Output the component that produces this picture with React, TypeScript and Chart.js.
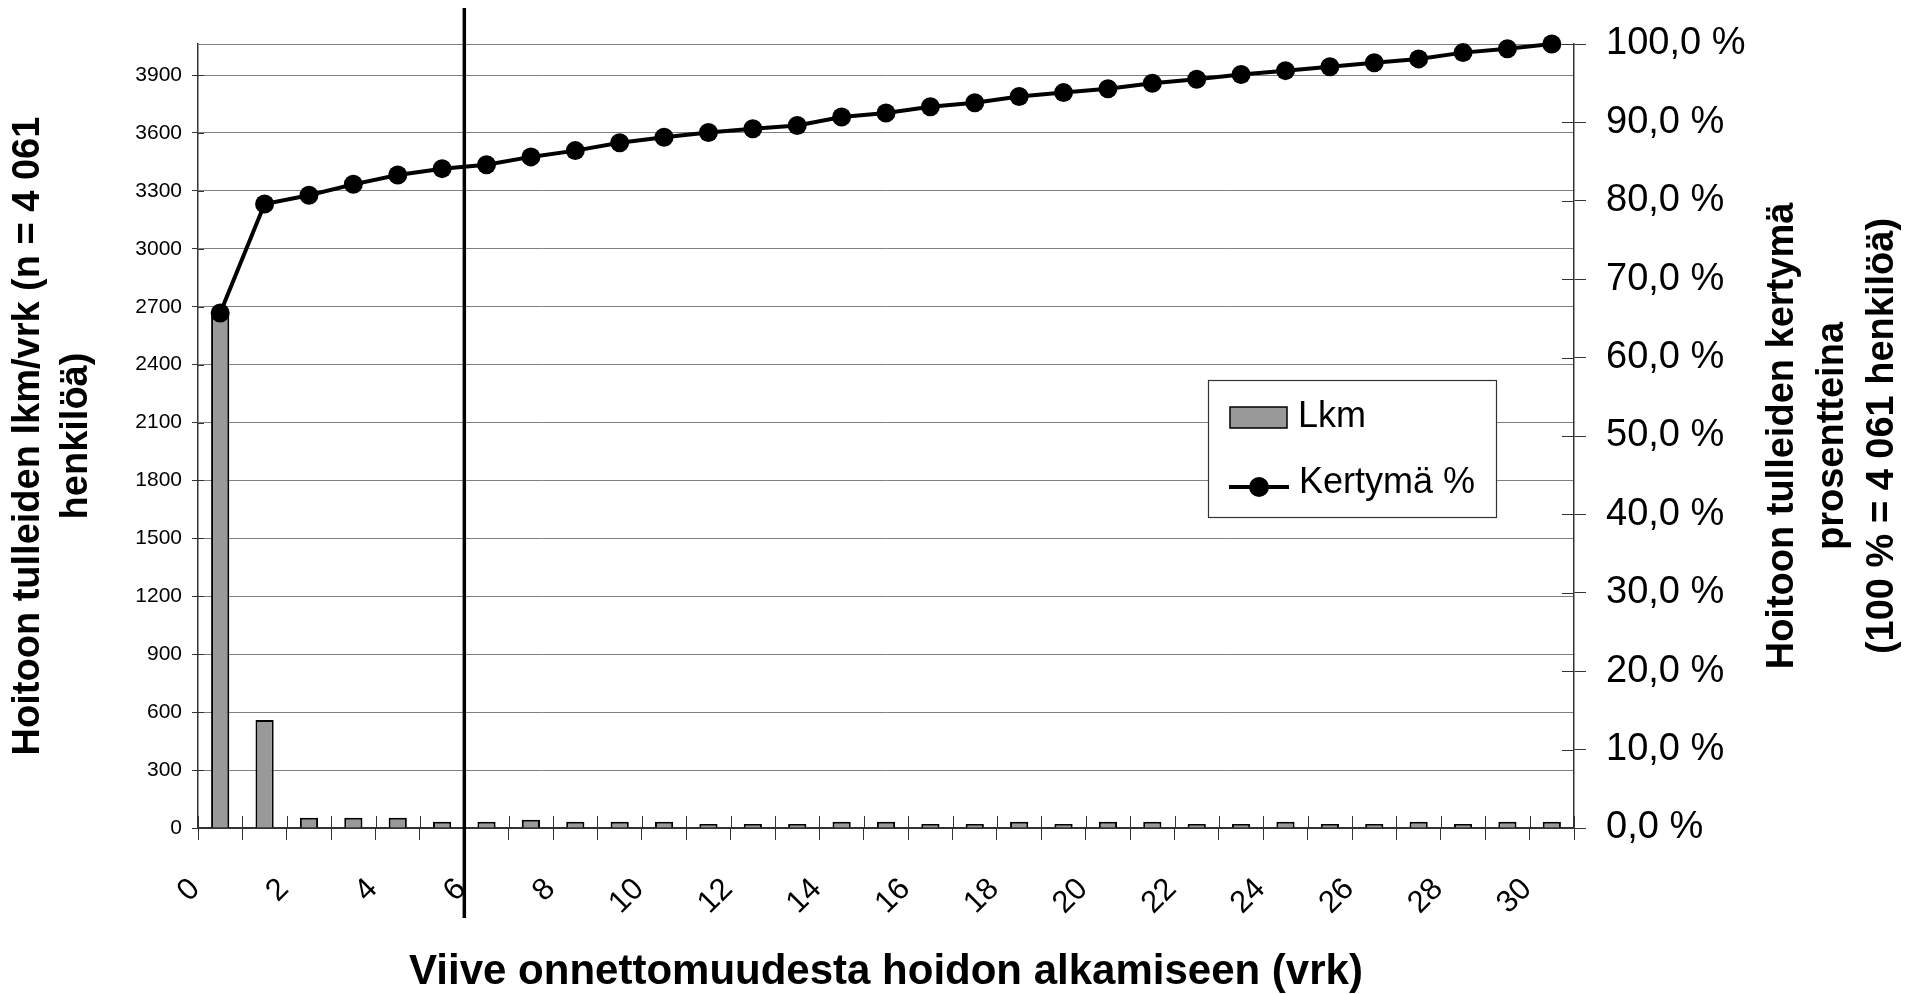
import React, { useEffect, useRef } from 'react';
import { Chart, registerables } from 'chart.js';

Chart.register(...registerables);

// ---- Data ----
const days: string[] = [
  '0', '1', '2', '3', '4', '5', '6', '7', '8', '9', '10', '11', '12', '13', '14', '15',
  '16', '17', '18', '19', '20', '21', '22', '23', '24', '25', '26', '27', '28', '29', '30',
];
const lkm: number[] = [
  2668, 559, 53, 53, 53, 33, 33, 43, 33, 33, 33, 21, 21, 21, 33, 33,
  21, 21, 33, 21, 33, 33, 21, 21, 33, 21, 21, 33, 21, 33, 33,
];
const kertyma: number[] = [
  65.7, 79.6, 80.7, 82.1, 83.3, 84.1, 84.6, 85.6, 86.4, 87.4, 88.1, 88.7, 89.2, 89.6, 90.7, 91.2,
  92.0, 92.5, 93.3, 93.8, 94.3, 95.0, 95.5, 96.1, 96.6, 97.1, 97.6, 98.1, 98.9, 99.4, 100.0,
];
const totalN = 4061;
const countStep = 300;
const pctMax = 100;
const pctStep = 10;
const dividerAfterIndex = 5;
const seriesLabels = ['Lkm', 'Kertymä %'];
const xTitle = 'Viive onnettomuudesta hoidon alkamiseen (vrk)';
const yTitle = ['Hoitoon tulleiden lkm/vrk (n = 4 061', 'henkilöä)'];
const y2Title = ['Hoitoon tulleiden kertymä', 'prosentteina', '(100 % = 4 061 henkilöä)'];

const FONT = "'Liberation Sans', Arial, sans-serif";
const BAR_FILL = '#999999';
const AXIS = '#333333';
const GRID = '#808080';

const decorPlugin = {
  id: 'decor',
  beforeDatasetsDraw(chart: any) {
    const { ctx, chartArea: a } = chart;
    ctx.save();
    ctx.strokeStyle = GRID;
    ctx.lineWidth = 1;
    ctx.beginPath();
    ctx.moveTo(a.left, Math.round(a.top) + 0.5);
    ctx.lineTo(a.right, Math.round(a.top) + 0.5);
    ctx.stroke();
    ctx.restore();
  },
  afterDraw(chart: any) {
    const { ctx, chartArea: a, scales } = chart;
    const x = scales.x;
    const y = scales.y;
    const y2 = scales.y2;
    ctx.save();
    // inward halves of tick marks
    ctx.strokeStyle = AXIS;
    ctx.lineWidth = 1;
    const cw = x.getPixelForValue(1) - x.getPixelForValue(0);
    for (let i = 0; i <= days.length; i++) {
      const px = Math.round(x.getPixelForValue(0) - cw / 2 + i * cw) + 0.5;
      ctx.beginPath();
      ctx.moveTo(px, a.bottom - 12);
      ctx.lineTo(px, a.bottom);
      ctx.stroke();
    }
    y.ticks.forEach((t: any) => {
      const py = Math.round(y.getPixelForValue(t.value)) + 0.5;
      ctx.beginPath();
      ctx.moveTo(a.left, py);
      ctx.lineTo(a.left + 6, py);
      ctx.stroke();
    });
    y2.ticks.forEach((t: any) => {
      const py = Math.round(y2.getPixelForValue(t.value)) + 0.5;
      ctx.beginPath();
      ctx.moveTo(a.right - 12, py);
      ctx.lineTo(a.right, py);
      ctx.stroke();
    });

    // vertical divider line
    const dx = (x.getPixelForValue(dividerAfterIndex) + x.getPixelForValue(dividerAfterIndex + 1)) / 2;
    ctx.strokeStyle = '#000';
    ctx.lineWidth = 3.5;
    ctx.beginPath();
    ctx.moveTo(dx, 8);
    ctx.lineTo(dx, 918);
    ctx.stroke();

    // right axis title (reads bottom-to-top)
    ctx.fillStyle = '#000';
    ctx.font = `bold 38px ${FONT}`;
    ctx.textAlign = 'center';
    ctx.textBaseline = 'alphabetic';
    const cy = (a.top + a.bottom) / 2;
    y2Title.forEach((line, i) => {
      ctx.save();
      ctx.translate(1793 + i * 50, cy);
      ctx.rotate(-Math.PI / 2);
      ctx.fillText(line, 0, 0);
      ctx.restore();
    });

    // legend
    const lx = 1208.5, ly = 380.5, lw = 288, lh = 137;
    ctx.fillStyle = '#fff';
    ctx.fillRect(lx, ly, lw, lh);
    ctx.strokeStyle = AXIS;
    ctx.lineWidth = 1.2;
    ctx.strokeRect(lx, ly, lw, lh);
    const barDs = chart.data.datasets[1];
    const lineDs = chart.data.datasets[0];
    ctx.fillStyle = barDs.backgroundColor;
    ctx.fillRect(1230, 407, 57, 21);
    ctx.strokeStyle = '#000';
    ctx.lineWidth = 1.5;
    ctx.strokeRect(1230, 407, 57, 21);
    ctx.strokeStyle = lineDs.borderColor;
    ctx.lineWidth = 4;
    ctx.beginPath();
    ctx.moveTo(1229, 487);
    ctx.lineTo(1289, 487);
    ctx.stroke();
    ctx.fillStyle = lineDs.pointBackgroundColor;
    ctx.beginPath();
    ctx.arc(1259, 487, 10, 0, Math.PI * 2);
    ctx.fill();
    ctx.fillStyle = '#000';
    ctx.font = `36px ${FONT}`;
    ctx.textAlign = 'left';
    ctx.textBaseline = 'alphabetic';
    ctx.fillText(barDs.label, 1298, 427);
    ctx.fillText(lineDs.label, 1299, 493);
    ctx.restore();
  },
};

export default function App() {
  const ref = useRef<HTMLCanvasElement>(null);

  useEffect(() => {
    document.body.style.margin = '0';
    const canvas = ref.current!;
    const chart = new Chart(canvas, {
      type: 'bar',
      data: {
        labels: days,
        datasets: [
          {
            type: 'line',
            label: seriesLabels[1],
            data: kertyma,
            yAxisID: 'y2',
            borderColor: '#000',
            borderWidth: 4,
            pointRadius: 9.5,
            pointBorderWidth: 0,
            pointBackgroundColor: '#000',
            pointBorderColor: '#000',
            tension: 0,
            clip: false,
            order: 1,
          } as any,
          {
            type: 'bar',
            label: seriesLabels[0],
            data: lkm,
            yAxisID: 'y',
            backgroundColor: BAR_FILL,
            borderColor: '#000',
            borderWidth: 2,
            categoryPercentage: 1,
            barPercentage: 0.41,
            order: 2,
          } as any,
        ],
      },
      options: {
        animation: false,
        responsive: false,
        devicePixelRatio: 1,
        layout: { padding: { top: 44, left: 0, right: 0, bottom: 0 } },
        plugins: {
          legend: { display: false },
          tooltip: { enabled: false },
        },
        scales: {
          x: {
            type: 'category',
            offset: true,
            afterFit: (s: any) => { s.height = 166; },
            grid: {
              offset: true,
              drawOnChartArea: false,
              drawTicks: true,
              tickLength: 12,
              color: AXIS,
              tickColor: AXIS,
              lineWidth: 1,
            },
            border: { display: true, color: AXIS, width: 2 },
            ticks: {
              autoSkip: false,
              minRotation: 45,
              maxRotation: 45,
              padding: 31,
              labelOffset: -25,
              color: '#000',
              font: { family: FONT, size: 31 },
              callback: (_v: any, i: number) => (i % 2 === 0 ? days[i] : ''),
            },
            title: {
              display: true,
              text: xTitle,
              color: '#000',
              font: { family: FONT, size: 42, weight: 'bold', lineHeight: 1 },
              padding: { top: 0, bottom: 1 },
            },
          },
          y: {
            type: 'linear',
            position: 'left',
            min: 0,
            max: totalN,
            bounds: 'data',
            afterFit: (s: any) => { s.width = 198; },
            afterBuildTicks: (s: any) => {
              s.ticks = s.ticks.filter((t: any) => t.value % countStep === 0);
            },
            grid: {
              drawOnChartArea: true,
              color: GRID,
              lineWidth: 1,
              tickLength: 6,
              tickColor: AXIS,
            },
            border: { display: true, color: AXIS, width: 1.5 },
            ticks: {
              stepSize: countStep,
              includeBounds: false,
              padding: 10,
              color: '#000',
              font: { family: FONT, size: 21 },
              callback: (v: any) => String(v),
            },
            title: {
              display: true,
              text: yTitle,
              color: '#000',
              font: { family: FONT, size: 38, weight: 'bold', lineHeight: 1.26 },
              padding: { top: 5, bottom: 0 },
            },
          },
          y2: {
            type: 'linear',
            position: 'right',
            min: 0,
            max: pctMax,
            bounds: 'data',
            afterFit: (s: any) => { s.width = 341; },
            grid: {
              drawOnChartArea: false,
              tickLength: 12,
              color: AXIS,
              tickColor: AXIS,
              lineWidth: 1,
            },
            border: { display: true, color: AXIS, width: 1.5 },
            ticks: {
              stepSize: pctStep,
              padding: 20,
              color: '#000',
              font: { family: FONT, size: 38 },
              callback: (v: any) => Number(v).toFixed(1).replace('.', ',') + ' %',
            },
          },
        },
      } as any,
      plugins: [decorPlugin],
    });
    return () => chart.destroy();
  }, []);

  return (
    <div style={{ position: 'fixed', left: 0, top: 0, width: 1915, height: 994, background: '#fff' }}>
      <canvas ref={ref} width={1915} height={994} style={{ display: 'block', width: 1915, height: 994 }} />
    </div>
  );
}
